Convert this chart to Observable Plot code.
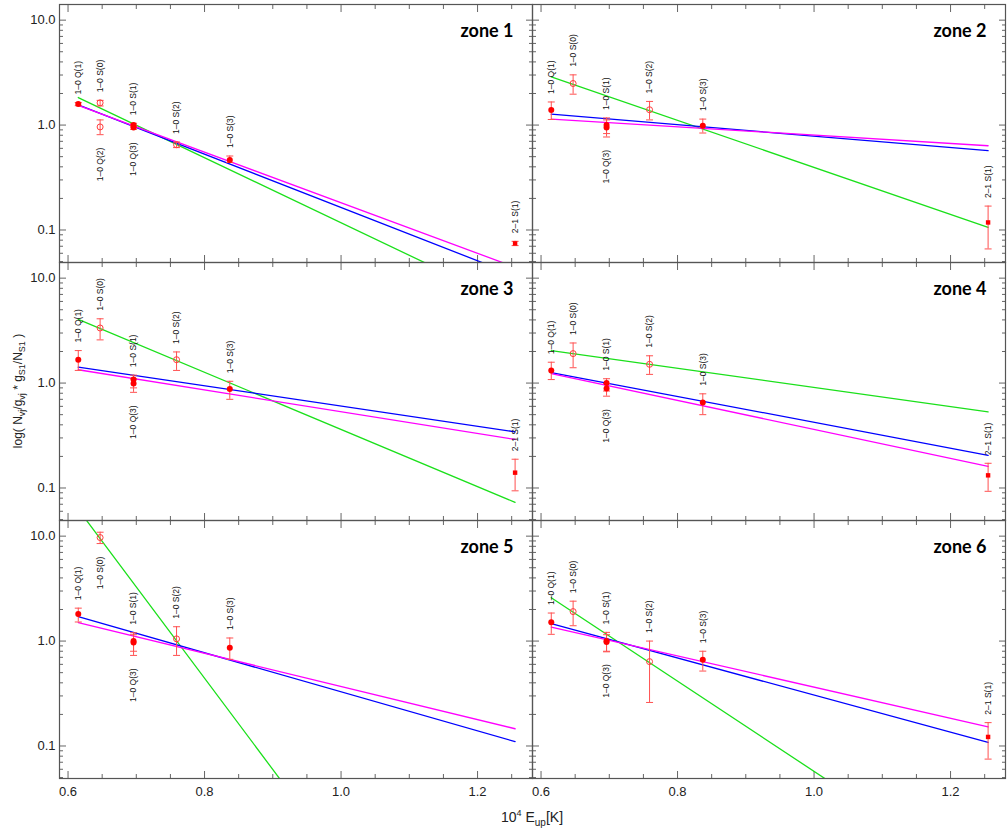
<!DOCTYPE html>
<html>
<head>
<meta charset="utf-8">
<script src="https://cdn.jsdelivr.net/npm/d3@7"></script>
<script src="https://cdn.jsdelivr.net/npm/@observablehq/plot@0.6"></script>
<style>
  html, body { margin: 0; padding: 0; background: #fff; overflow: hidden; }
  #chart { width: 1008px; height: 831px; }
</style>
</head>
<body>
<div id="chart"></div>
<script>
// ---------- data ----------
const zones = ["zone 1", "zone 2", "zone 3", "zone 4", "zone 5", "zone 6"];
const transitions = ["1–0 Q(1)", "1–0 S(0)", "1–0 Q(2)", "1–0 S(1)", "1–0 Q(3)", "1–0 S(2)", "1–0 S(3)", "2–1 S(1)"];
const eUp = [0.615, 0.647, 0.647, 0.696, 0.696, 0.759, 0.837, 1.255];   // 10^4 E_up [K]
const openLines = ["1–0 S(0)", "1–0 Q(2)", "1–0 S(2)"];
const squareLines = ["2–1 S(1)"];
const belowLabels = ["1–0 Q(2)", "1–0 Q(3)"];

// N_vj/g_vj * g_S1/N_S1 per zone (rows) and transition (columns)
const ratio = [
  [1.585, 1.63, 0.96, 1.00, 0.95, 0.65, 0.465, 0.0745],
  [1.39, 2.49, null, 1.00, 0.95, 1.40, 0.985, 0.118],
  [1.67, 3.35, null, 1.08, 0.99, 1.67, 0.877, 0.140],
  [1.32, 1.91, null, 1.00, 0.89, 1.51, 0.652, 0.132],
  [1.81, 9.70, null, 1.00, 0.97, 1.05, 0.865, null],
  [1.51, 1.91, null, 1.00, 0.98, 0.637, 0.665, 0.122]
];
const ratioLo = [
  [1.53, 1.52, 0.81, 0.96, 0.91, 0.61, 0.44, 0.071],
  [1.13, 1.97, null, 0.83, 0.77, 1.12, 0.84, 0.066],
  [1.32, 2.58, null, 0.90, 0.816, 1.32, 0.70, 0.094],
  [1.08, 1.40, null, 0.84, 0.75, 1.21, 0.50, 0.093],
  [1.52, 8.5, null, 0.80, 0.73, 0.73, 0.67, null],
  [1.16, 1.40, null, 0.79, 0.80, 0.26, 0.518, 0.075]
];
const ratioHi = [
  [1.64, 1.72, 1.12, 1.04, 0.99, 0.69, 0.507, 0.078],
  [1.66, 3.01, null, 1.17, 1.12, 1.68, 1.14, 0.169],
  [2.04, 4.10, null, 1.19, 1.10, 1.98, 1.04, 0.188],
  [1.58, 2.41, null, 1.10, 0.99, 1.82, 0.79, 0.172],
  [2.06, 10.9, null, 1.20, 1.15, 1.37, 1.07, null],
  [1.85, 2.40, null, 1.21, 1.15, 1.00, 0.80, 0.167]
];

// three fitted lines per zone (green, blue, magenta): endpoints
const fitIds = ["fit A", "fit B", "fit C"];
const fitColors = ["#1be01b", "#0000ff", "#ff00ff"];
const fitX0 = [
  [0.615, 0.615, 0.615], [0.615, 0.615, 0.615], [0.615, 0.615, 0.615],
  [0.615, 0.615, 0.615], [0.615, 0.615, 0.615], [0.615, 0.615, 0.615]
];
const fitY0 = [
  [1.83, 1.56, 1.54], [2.88, 1.27, 1.14], [4.04, 1.42, 1.34],
  [2.04, 1.26, 1.23], [18.0, 1.71, 1.50], [2.59, 1.47, 1.36]
];
const fitX1 = [
  [1.125, 1.21, 1.24], [1.255, 1.255, 1.255], [1.255, 1.255, 1.255],
  [1.255, 1.255, 1.255], [0.92, 1.255, 1.255], [1.02, 1.255, 1.255]
];
const fitY1 = [
  [0.048, 0.048, 0.048], [0.106, 0.57, 0.635], [0.073, 0.343, 0.29],
  [0.531, 0.205, 0.161], [0.04, 0.11, 0.146], [0.047, 0.108, 0.152]
];

// axes
const xDomain = [0.5875, 1.2805];
const yDomain = [0.049, 14.1];
const xMajor = [0.6, 0.8, 1.0, 1.2];
const xMinor = [0.65, 0.7, 0.75, 0.85, 0.9, 0.95, 1.05, 1.1, 1.15, 1.25];
const yMajor = [0.1, 1, 10];
const yMinor = [0.05, 0.06, 0.07, 0.08, 0.09, 0.2, 0.3, 0.4, 0.5, 0.6, 0.7, 0.8, 0.9, 2, 3, 4, 5, 6, 7, 8, 9];

// ---------- tables ----------
const points = [];
zones.forEach((z, zi) => transitions.forEach((t, ti) => {
  const v = ratio[zi][ti];
  if (v == null) return;
  points.push({zone: z, col: zi % 2, row: Math.floor(zi / 2), line: t, x: eUp[ti], y: v,
               lo: ratioLo[zi][ti], hi: ratioHi[zi][ti]});
}));
const fits = [];
zones.forEach((z, zi) => fitIds.forEach((f, fi) => {
  const base = {zone: z, col: zi % 2, row: Math.floor(zi / 2), fit: f};
  fits.push({...base, x: fitX0[zi][fi], y: fitY0[zi][fi]});
  fits.push({...base, x: fitX1[zi][fi], y: fitY1[zi][fi]});
}));
const zoneTable = zones.map((z, zi) => ({zone: z, col: zi % 2, row: Math.floor(zi / 2)}));

const filled = points.filter(p => !openLines.includes(p.line) && !squareLines.includes(p.line));
const open = points.filter(p => openLines.includes(p.line));
const squares = points.filter(p => squareLines.includes(p.line));
const isBelow = p => belowLabels.includes(p.line) || p.hi > 6;
const labelsAbove = points.filter(p => !isBelow(p));
const labelsBelow = points.filter(p => isBelow(p));

const capSymbol = {draw(ctx, size) { const w = Math.sqrt(size / Math.PI); ctx.moveTo(-w, 0); ctx.lineTo(w, 0); }};
const errColor = "#ff5050";
const tickStyle = {stroke: "#666", strokeWidth: 1, label: null, fill: "none", tickFormat: () => "", facetAnchor: null};
const F = {fx: "col", fy: "row"};

const chart = Plot.plot({
  width: 1008,
  height: 831,
  marginLeft: 58,
  marginRight: 3,
  marginTop: 3,
  marginBottom: 53,
  style: {fontFamily: "'Liberation Sans', Arial, sans-serif", fontSize: "13px", background: "#fff", color: "#222"},
  x: {domain: xDomain, axis: null},
  y: {type: "log", domain: yDomain, axis: null},
  fx: {domain: [0, 1], padding: 0, axis: null},
  fy: {domain: [0, 1, 2], padding: 0, axis: null},
  color: {domain: fitIds, range: fitColors},
  marks: [
    // inward ticks on all four sides of every panel
    Plot.axisX(xMajor, {...tickStyle, anchor: "bottom", tickSize: -7}),
    Plot.axisX(xMinor, {...tickStyle, anchor: "bottom", tickSize: -4}),
    Plot.axisX(xMajor, {...tickStyle, anchor: "top", tickSize: -7}),
    Plot.axisX(xMinor, {...tickStyle, anchor: "top", tickSize: -4}),
    Plot.axisY(yMajor, {...tickStyle, anchor: "left", tickSize: -7}),
    Plot.axisY(yMinor, {...tickStyle, anchor: "left", tickSize: -4}),
    Plot.axisY(yMajor, {...tickStyle, anchor: "right", tickSize: -7}),
    Plot.axisY(yMinor, {...tickStyle, anchor: "right", tickSize: -4}),
    // tick labels
    Plot.axisY(yMajor, {anchor: "left", tickSize: 0, tickPadding: 4, tickFormat: d3.format(".1f"),
                        label: null, facetAnchor: "left", fill: "#222", fontSize: 13}),
    Plot.axisX(xMajor, {anchor: "bottom", tickSize: 0, tickPadding: 8, tickFormat: d3.format(".1f"),
                        label: null, facetAnchor: "bottom", fill: "#222", fontSize: 13}),
    // fits
    Plot.line(fits, {...F, x: "x", y: "y", z: "fit", stroke: "fit", strokeWidth: 1.3, clip: true}),
    // error bars
    Plot.ruleX(points, {...F, x: "x", y1: "lo", y2: "hi", stroke: errColor, strokeWidth: 1}),
    Plot.dot(points, {...F, x: "x", y: "lo", symbol: capSymbol, r: 3.5, stroke: errColor, strokeWidth: 1}),
    Plot.dot(points, {...F, x: "x", y: "hi", symbol: capSymbol, r: 3.5, stroke: errColor, strokeWidth: 1}),
    // markers
    Plot.dot(filled, {...F, x: "x", y: "y", r: 3, fill: "#ff0000"}),
    Plot.dot(open, {...F, x: "x", y: "y", r: 3, fill: "none", stroke: "#ff3c3c", strokeWidth: 1}),
    Plot.dot(squares, {...F, x: "x", y: "y", symbol: "square", r: 2.5, fill: "#ff0000"}),
    // transition labels
    Plot.text(labelsAbove, {...F, x: "x", y: "hi", text: "line", rotate: -90, textAnchor: "start",
                            lineAnchor: "middle", dy: -8, fontSize: 8.5, fill: "#111"}),
    Plot.text(labelsBelow, {...F, x: "x", y: "lo", text: "line", rotate: -90, textAnchor: "end",
                            lineAnchor: "middle", dy: 13, fontSize: 8.5, fill: "#111"}),
    // zone names
    Plot.text(zoneTable, {...F, text: "zone", frameAnchor: "top-right", textAnchor: "end", lineAnchor: "middle",
                          dx: -19, dy: 27, fontSize: 18, fontWeight: "bold", fontFamily: "Lato, 'Open Sans', sans-serif", fill: "#000"}),
    // panel frames
    Plot.frame({stroke: "#555", strokeWidth: 1.2})
  ]
});

const svg = d3.select(chart);
// y-axis title
const yt = svg.append("text")
  .attr("transform", "translate(22,391) rotate(-90)")
  .attr("text-anchor", "middle")
  .attr("font-size", 12)
  .attr("fill", "#222");
const ySeg = [["log( N", 0], ["vj", 1], ["/g", 0], ["vj", 1], [" * g", 0], ["S1", 1], ["/N", 0], ["S1", 1], [" )", 0]];
let prevSub = 0;
ySeg.forEach(([s, sub]) => {
  yt.append("tspan").attr("dy", (sub - prevSub) * 3).attr("font-size", sub ? 9 : 12).text(s);
  prevSub = sub;
});
// x-axis title
const xt = svg.append("text")
  .attr("x", 532).attr("y", 822)
  .attr("text-anchor", "middle")
  .attr("font-size", 14)
  .attr("fill", "#222");
xt.append("tspan").text("10");
xt.append("tspan").attr("dy", -6).attr("font-size", 9).text("4");
xt.append("tspan").attr("dy", 6).text(" E");
xt.append("tspan").attr("dy", 4).attr("font-size", 10).text("up");
xt.append("tspan").attr("dy", -4).text("[K]");

document.getElementById("chart").appendChild(chart);
</script>
</body>
</html>
